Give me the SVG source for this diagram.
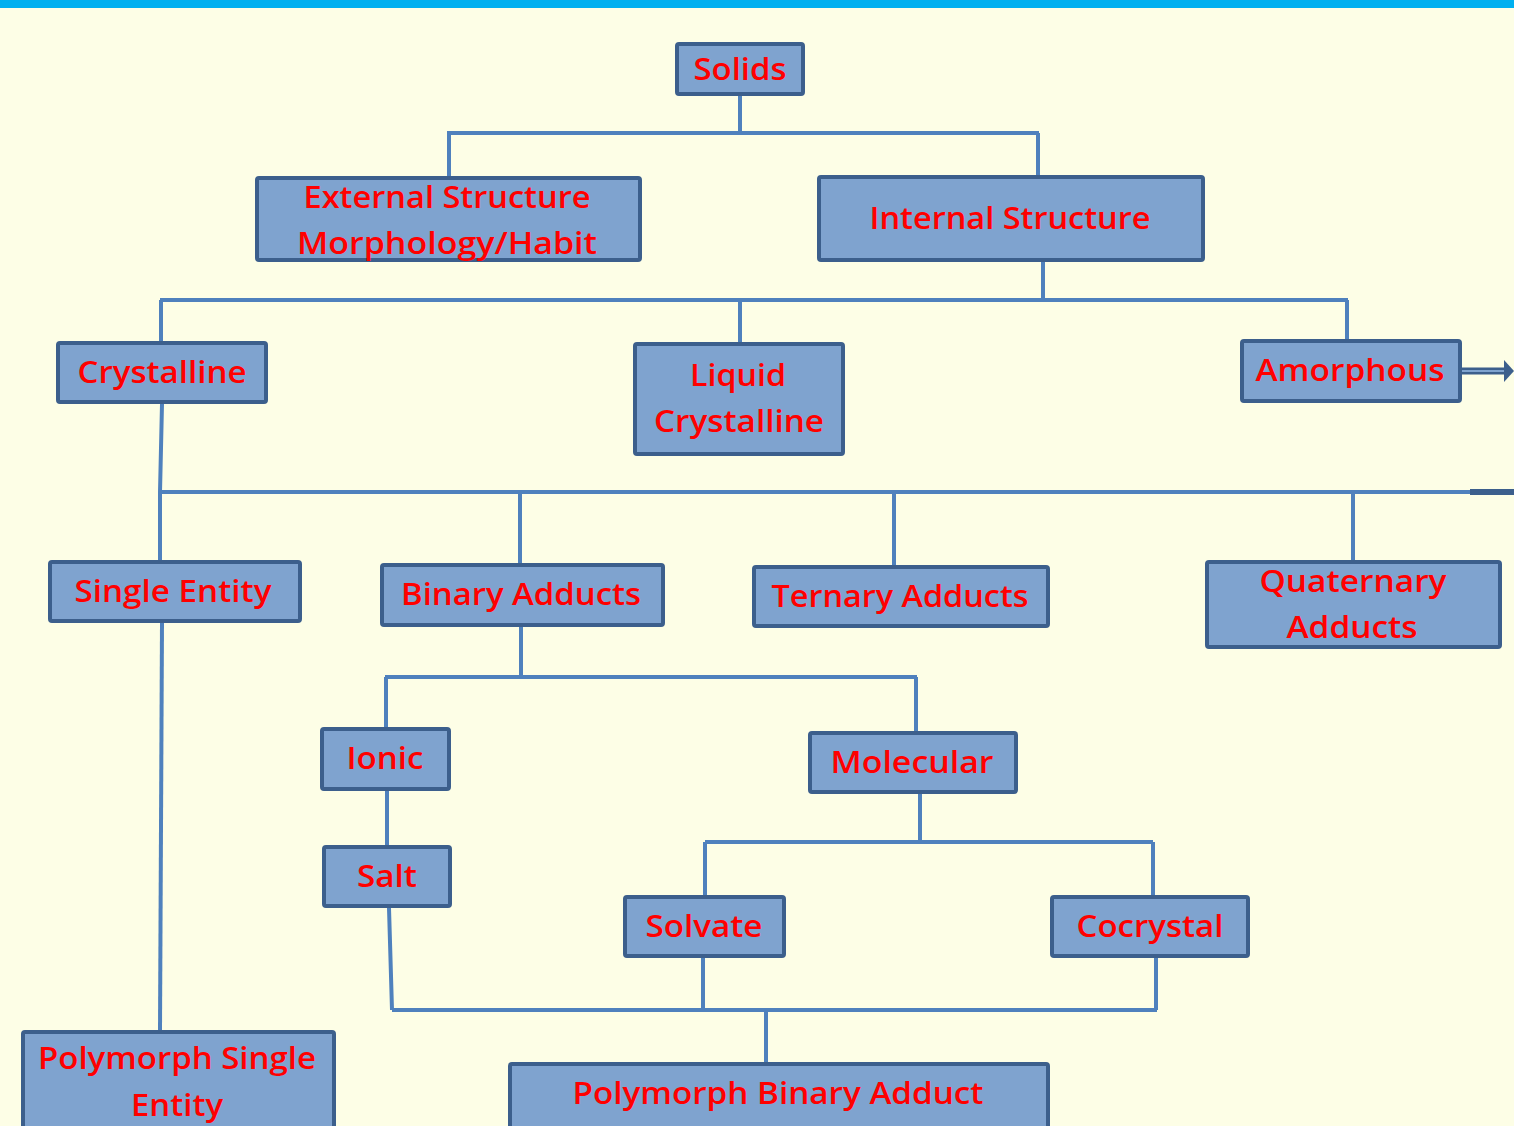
<svg xmlns="http://www.w3.org/2000/svg" width="1514" height="1126" viewBox="0 0 1514 1126">
<style>
.bx{fill:#7FA3CF;stroke:#3C5F8C;stroke-width:4}
.t{font-family:"Open Sans","Liberation Sans",Arial,sans-serif;font-weight:600;font-size:31px;fill:#FF0000;text-anchor:middle}
.c{fill:none;stroke:#4F81BD;stroke-width:4}
</style>
<rect x="0" y="0" width="1514" height="1126" fill="#FDFEE6"/>
<rect x="0" y="0" width="1514" height="8" fill="#00B0F0"/>
<g id="connectors">
<path class="c" d="M740,96 V133 M447,133 H1039 M449,133 V176 M1038,133 V175"/>
<path class="c" d="M1043,262 V300 M160,300 H1348 M161,300 V341 M740,300 V342 M1347,300 V339"/>
<path class="c" d="M162,404 L160,492 M160,492 H1470 M160,492 V560 M520,492 V563 M894,492 V565 M1353,492 V560"/>
<path d="M1470,492 H1514" stroke="#3C5F8C" stroke-width="6" fill="none"/>
<path class="c" d="M162,623 L160,1030"/>
<path class="c" d="M521,627 V677 M385,677 H917 M386,677 V727 M916,677 V731"/>
<path class="c" d="M387,791 V845"/>
<path class="c" d="M920,794 V842 M705,842 H1153 M705,842 V895 M1153,842 V895"/>
<path class="c" d="M389,908 L392,1010 M392,1010 H1157 M703,958 V1010 M1156,958 V1010 M766,1010 V1062"/>
<path d="M1462,371 H1506" stroke="#3C5F8C" stroke-width="7" fill="none"/>
<path d="M1462,371 H1506" stroke="#7FA3CF" stroke-width="2" fill="none"/>
<path d="M1504,360 L1514,371 L1504,382 Z" fill="#3C5F8C"/>
</g>
<g id="solids"><rect class="bx" x="677" y="44" width="126" height="50" rx="2"/><text class="t" x="740" y="80" textLength="93" lengthAdjust="spacingAndGlyphs">Solids</text></g>
<g id="external"><rect class="bx" x="257" y="178" width="383" height="82" rx="2"/><text class="t" x="447" y="208" textLength="287" lengthAdjust="spacingAndGlyphs">External Structure</text><text class="t" x="447" y="254" textLength="300" lengthAdjust="spacingAndGlyphs">Morphology/Habit</text></g>
<g id="internal"><rect class="bx" x="819" y="177" width="384" height="83" rx="2"/><text class="t" x="1010" y="229" textLength="281" lengthAdjust="spacingAndGlyphs">Internal Structure</text></g>
<g id="crystalline"><rect class="bx" x="58" y="343" width="208" height="59" rx="2"/><text class="t" x="162" y="383" textLength="169" lengthAdjust="spacingAndGlyphs">Crystalline</text></g>
<g id="liquid"><rect class="bx" x="635" y="344" width="208" height="110" rx="2"/><text class="t" x="738" y="386" textLength="96" lengthAdjust="spacingAndGlyphs">Liquid</text><text class="t" x="739" y="432" textLength="170" lengthAdjust="spacingAndGlyphs">Crystalline</text></g>
<g id="amorphous"><rect class="bx" x="1242" y="341" width="218" height="60" rx="2"/><text class="t" x="1350" y="381" textLength="189" lengthAdjust="spacingAndGlyphs">Amorphous</text></g>
<g id="single"><rect class="bx" x="50" y="562" width="250" height="59" rx="2"/><text class="t" x="173" y="602" textLength="197" lengthAdjust="spacingAndGlyphs">Single Entity</text></g>
<g id="binary"><rect class="bx" x="382" y="565" width="281" height="60" rx="2"/><text class="t" x="521" y="605" textLength="240" lengthAdjust="spacingAndGlyphs">Binary Adducts</text></g>
<g id="ternary"><rect class="bx" x="754" y="567" width="294" height="59" rx="2"/><text class="t" x="900" y="607" textLength="257" lengthAdjust="spacingAndGlyphs">Ternary Adducts</text></g>
<g id="quaternary"><rect class="bx" x="1207" y="562" width="293" height="85" rx="2"/><text class="t" x="1353" y="592" textLength="187" lengthAdjust="spacingAndGlyphs">Quaternary</text><text class="t" x="1352" y="638" textLength="131" lengthAdjust="spacingAndGlyphs">Adducts</text></g>
<g id="ionic"><rect class="bx" x="322" y="729" width="127" height="60" rx="2"/><text class="t" x="385" y="769" textLength="77" lengthAdjust="spacingAndGlyphs">Ionic</text></g>
<g id="molecular"><rect class="bx" x="810" y="733" width="206" height="59" rx="2"/><text class="t" x="912" y="773" textLength="163" lengthAdjust="spacingAndGlyphs">Molecular</text></g>
<g id="salt"><rect class="bx" x="324" y="847" width="126" height="59" rx="2"/><text class="t" x="387" y="887" textLength="60" lengthAdjust="spacingAndGlyphs">Salt</text></g>
<g id="solvate"><rect class="bx" x="625" y="897" width="159" height="59" rx="2"/><text class="t" x="704" y="937" textLength="117" lengthAdjust="spacingAndGlyphs">Solvate</text></g>
<g id="cocrystal"><rect class="bx" x="1052" y="897" width="196" height="59" rx="2"/><text class="t" x="1150" y="937" textLength="147" lengthAdjust="spacingAndGlyphs">Cocrystal</text></g>
<g id="polysingle"><rect class="bx" x="23" y="1032" width="311" height="104" rx="2"/><text class="t" x="177" y="1069" textLength="278" lengthAdjust="spacingAndGlyphs">Polymorph Single</text><text class="t" x="177" y="1116" textLength="92" lengthAdjust="spacingAndGlyphs">Entity</text></g>
<g id="polybinary"><rect class="bx" x="510" y="1064" width="538" height="72" rx="2"/><text class="t" x="778" y="1104" textLength="411" lengthAdjust="spacingAndGlyphs">Polymorph Binary Adduct</text></g>
</svg>
